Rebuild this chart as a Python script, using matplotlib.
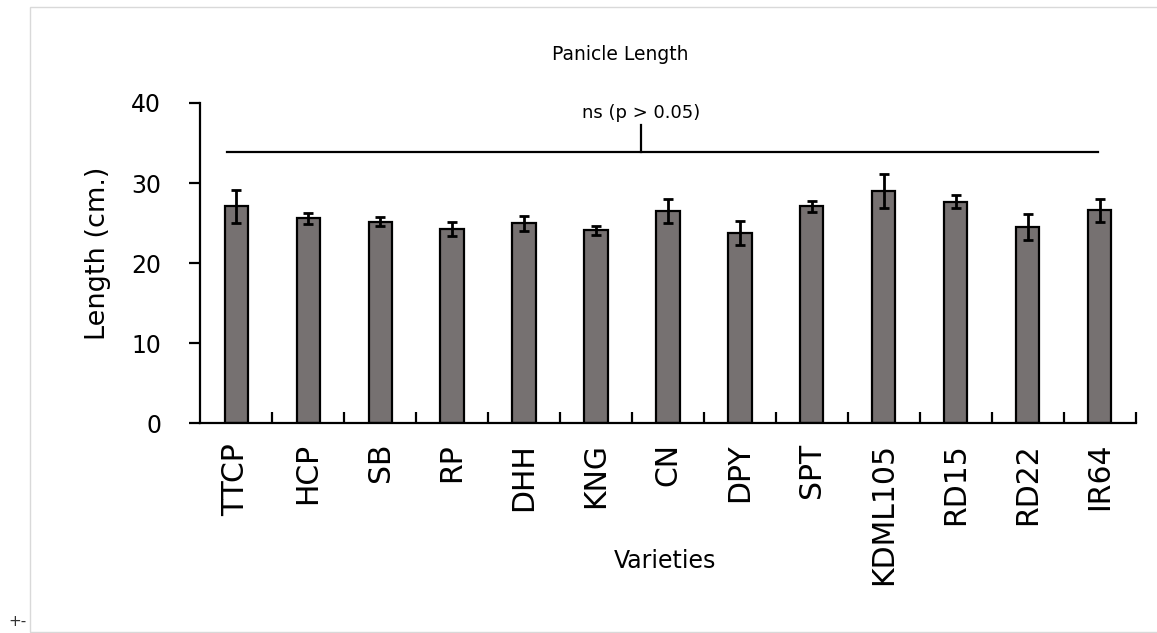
import numpy as np
import matplotlib.pyplot as plt
from matplotlib.patches import Rectangle

# panicle length per variety (cm)
varieties = ["TTCP", "HCP", "SB", "RP", "DHH", "KNG", "CN", "DPY", "SPT",
             "KDML105", "RD15", "RD22", "IR64"]
length_mean = [27.1, 25.6, 25.2, 24.3, 25.0, 24.1, 26.5, 23.8, 27.1, 29.0, 27.7, 24.5, 26.6]
length_err = [2.05, 0.7, 0.55, 0.85, 0.95, 0.6, 1.5, 1.5, 0.7, 2.1, 0.8, 1.6, 1.4]

W, H = 1157, 633
fig = plt.figure(figsize=(W / 100, H / 100), dpi=100)
ax = fig.add_axes([0.1729, 0.331, 0.8089, 0.5063])

x = np.arange(len(varieties))
ax.bar(x, length_mean, width=0.32, color="#767171", edgecolor="black", linewidth=1.6,
       yerr=length_err, capsize=3.3, error_kw=dict(elinewidth=2, capthick=2, ecolor="black"))

ax.set_xlim(-0.5, len(varieties) - 0.5)
ax.set_ylim(0, 40)
ax.set_yticks([0, 10, 20, 30, 40])
ax.tick_params(axis="y", labelsize=17, width=1.6, length=8, direction="out", pad=20)

# labels under each bar, tick marks between categories
ax.set_xticks(x)
ax.set_xticklabels(varieties, rotation=90, fontsize=21.5)
ax.tick_params(axis="x", which="major", length=0, pad=14)
ax.set_xticks(x + 0.5, minor=True)
ax.tick_params(axis="x", which="minor", direction="in", length=8, width=1.6)

for s in ["top", "right"]:
    ax.spines[s].set_visible(False)
ax.spines["left"].set_linewidth(1.6)
ax.spines["bottom"].set_linewidth(1.6)

fig.text(620 / W, 1 - 54 / H, "Panicle Length", fontsize=13.5, ha="center", va="center")
fig.text(98 / W, 1 - 253 / H, "Length (cm.)", fontsize=19.5, rotation=90, ha="center", va="center")
fig.text(665 / W, 1 - 561 / H, "Varieties", fontsize=17, ha="center", va="center")

# significance bracket
ax.plot([-0.13, 11.97], [33.9, 33.9], color="black", lw=1.6, clip_on=False)
ax.plot([5.63, 5.63], [33.9, 37.2], color="black", lw=1.6, clip_on=False)
ax.text(5.63, 38.7, "ns (p > 0.05)", ha="center", va="center", fontsize=13)

# light chart frame
fig.patches.append(Rectangle((30 / W, 1 / H), 1.1, 625 / H, transform=fig.transFigure,
                             fill=False, edgecolor="#d9d9d9", linewidth=1))
fig.text(8 / W, 1 - 622 / H, "+-", fontsize=11, color="#333333", va="center")

fig.savefig("out.png", dpi=100)
